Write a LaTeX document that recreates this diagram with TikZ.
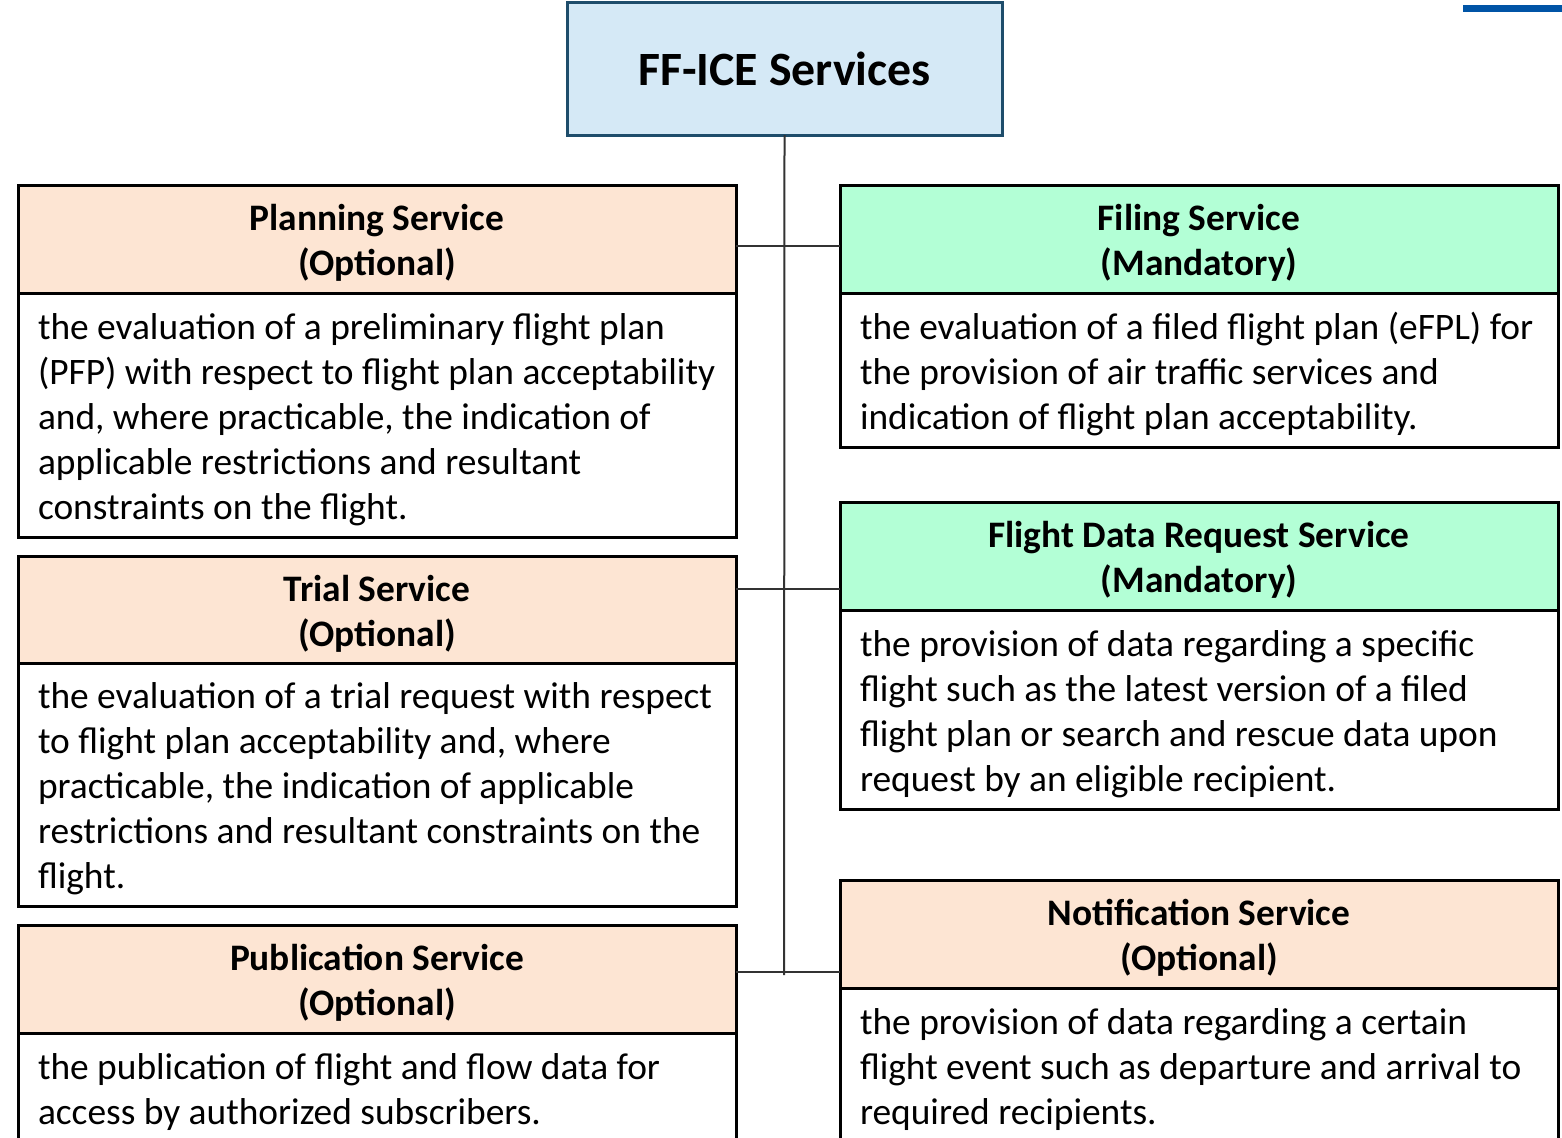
\documentclass[tikz,border=0pt]{standalone}
\usepackage{fontspec}
\setmainfont{Carlito}
\definecolor{peach}{HTML}{FDE5D3}
\definecolor{mint}{HTML}{B3FFD6}
\definecolor{titlefill}{HTML}{D5E9F6}
\definecolor{titleline}{HTML}{1E4D6B}
\definecolor{barblue}{HTML}{0054A6}
\definecolor{connc}{HTML}{333333}
\newcommand{\bodyfont}{\fontsize{37.4}{45}\selectfont}
\newcommand{\topstr}{\rule{0pt}{41.5pt}}
\begin{document}
\begin{tikzpicture}[x=1pt,y=-1pt,
  box/.style={draw=black,line width=3pt,anchor=north west,minimum width=718pt,inner sep=0pt,outer sep=0pt},
  optH/.style={box,fill=peach,minimum height=108pt,align=center,font=\bfseries\bodyfont},
  manH/.style={optH,fill=mint},
  bodybox/.style={box,fill=white},
  txt/.style={anchor=west,align=left,inner sep=0pt,outer sep=0pt,font=\bodyfont},
  connline/.style={draw=connc,line width=2pt}]
\useasboundingbox (0,0) rectangle (1562,1137);
\clip (0,0) rectangle (1562,1137);

% title
\node[box,fill=titlefill,draw=titleline,minimum width=435pt,minimum height=132pt,align=center,font=\bfseries\fontsize{47.8}{57}\selectfont] (title) at (567,3) {FF-ICE Services};

% trunk and branch points
\coordinate (j1) at (784,246);
\coordinate (j2) at (784,589);
\coordinate (j3) at (784,972);
\coordinate (trunkend) at (784,975);

% left column
\node[optH] (planH) at (18,185) {\topstr Planning Service\\(Optional)\strut};
\node[bodybox,minimum height=244pt] (planB) at (18,293) {};
\node[txt] (planT) at (38,420) {\strut the evaluation of a preliminary flight plan\\(PFP) with respect to flight plan acceptability\\and, where practicable, the indication of\\applicable restrictions and resultant\\constraints on the flight.\strut};

\node[optH,minimum height=107pt] (trialH) at (18,556) {\topstr Trial Service\\(Optional)\strut};
\node[bodybox,minimum height=243pt] (trialB) at (18,663) {};
\node[txt] (trialT) at (38,789) {\strut the evaluation of a trial request with respect\\to flight plan acceptability and, where\\practicable, the indication of applicable\\restrictions and resultant constraints on the\\flight.\strut};

\node[optH] (pubH) at (18,925) {\topstr Publication Service\\(Optional)\strut};
\node[bodybox,minimum height=160pt] (pubB) at (18,1033) {};
\node[txt] (pubT) at (38,1093) {\strut the publication of flight and flow data for\\access by authorized subscribers.\strut};

% right column
\node[manH] (fileH) at (840,185) {\topstr Filing Service\\(Mandatory)\strut};
\node[bodybox,minimum height=154pt] (fileB) at (840,293) {};
\node[txt] (fileT) at (860,375) {\strut the evaluation of a filed flight plan (eFPL) for\\the provision of air traffic services and\\indication of flight plan acceptability.\strut};

\node[manH] (fdrH) at (840,502) {\topstr Flight Data Request Service\\(Mandatory)\strut};
\node[bodybox,minimum height=199pt] (fdrB) at (840,610) {};
\node[txt] (fdrT) at (860,715) {\strut the provision of data regarding a specific\\flight such as the latest version of a filed\\flight plan or search and rescue data upon\\request by an eligible recipient.\strut};

\node[optH] (notH) at (840,880) {\topstr Notification Service\\(Optional)\strut};
\node[bodybox,minimum height=170pt] (notB) at (840,988) {};
\node[txt] (notT) at (860,1070) {\strut the provision of data regarding a certain\\flight event such as departure and arrival to\\required recipients.\strut};

% connectors
\draw[connline] (title.south) -- (trunkend);
\draw[connline] (planH.east |- j1) -- (fileH.west |- j1);
\draw[connline] (trialH.east |- j2) -- (fdrH.west |- j2);
\draw[connline] (pubH.east |- j3) -- (notH.west |- j3);

% decorative bar
\fill[barblue] (1463,5) rectangle (1562,12);
\end{tikzpicture}
\end{document}
